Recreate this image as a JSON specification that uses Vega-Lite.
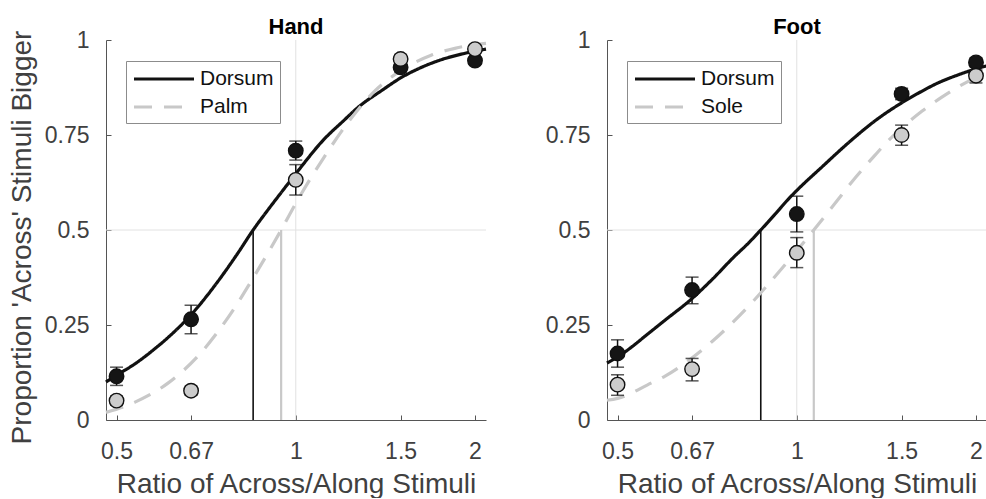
{
  "$schema": "https://vega.github.io/schema/vega-lite/v6.json",
  "background": "white",
  "padding": {"left": 8, "top": 16, "right": 0, "bottom": 0},
  "config": {
    "font": "Liberation Sans",
    "view": {"stroke": null},
    "axis": {
      "domainColor": "#555555", "tickColor": "#555555", "labelColor": "#404040", "titleColor": "#404040",
      "labelFont": "Liberation Sans", "titleFont": "Liberation Sans", "labelFontSize": 23, "titleFontSize": 28,
      "titleFontWeight": "normal", "grid": false, "tickSize": -5, "labelFlush": false, "labelOverlap": false,
      "domainWidth": 1, "tickWidth": 1
    },
    "axisX": {"labelPadding": 25, "titlePadding": 7},
    "axisY": {"labelPadding": 22, "titlePadding": 8},
    "title": {"fontSize": 22, "fontWeight": "bold", "color": "#000000", "font": "Liberation Sans", "offset": -10},
    "legend": {
      "orient": "none", "legendX": 20, "legendY": 21, "strokeColor": "#8c8c8c", "fillColor": "white",
      "padding": 6, "symbolType": "M-1,0L5,0", "symbolSize": 400, "symbolStrokeWidth": 3.2,
      "labelFontSize": 21, "labelFont": "Liberation Sans", "labelColor": "#111111", "labelOffset": 44, "rowPadding": 6
    }
  },
  "datasets": {
    "hand_curve": [
      {"x": 0.48, "y": 0.100, "series": "Dorsum"}, {"x": 0.5, "y": 0.118, "series": "Dorsum"}, {"x": 0.536, "y": 0.147, "series": "Dorsum"},
      {"x": 0.575, "y": 0.183, "series": "Dorsum"}, {"x": 0.611, "y": 0.218, "series": "Dorsum"}, {"x": 0.668, "y": 0.278, "series": "Dorsum"},
      {"x": 0.741, "y": 0.366, "series": "Dorsum"}, {"x": 0.8, "y": 0.440, "series": "Dorsum"}, {"x": 0.848, "y": 0.500, "series": "Dorsum"},
      {"x": 0.9, "y": 0.555, "series": "Dorsum"}, {"x": 0.95, "y": 0.603, "series": "Dorsum"}, {"x": 1.0, "y": 0.648, "series": "Dorsum"},
      {"x": 1.116, "y": 0.739, "series": "Dorsum"}, {"x": 1.2, "y": 0.786, "series": "Dorsum"}, {"x": 1.273, "y": 0.823, "series": "Dorsum"},
      {"x": 1.4, "y": 0.869, "series": "Dorsum"}, {"x": 1.503, "y": 0.901, "series": "Dorsum"}, {"x": 1.6, "y": 0.923, "series": "Dorsum"},
      {"x": 1.754, "y": 0.948, "series": "Dorsum"}, {"x": 1.9, "y": 0.963, "series": "Dorsum"}, {"x": 2.02, "y": 0.972, "series": "Dorsum"},
      {"x": 2.087, "y": 0.976, "series": "Dorsum"},
      {"x": 0.48, "y": 0.020, "series": "Palm"}, {"x": 0.537, "y": 0.047, "series": "Palm"}, {"x": 0.61, "y": 0.097, "series": "Palm"},
      {"x": 0.694, "y": 0.178, "series": "Palm"}, {"x": 0.75, "y": 0.245, "series": "Palm"}, {"x": 0.79, "y": 0.296, "series": "Palm"},
      {"x": 0.842, "y": 0.366, "series": "Palm"}, {"x": 0.9, "y": 0.442, "series": "Palm"}, {"x": 0.945, "y": 0.500, "series": "Palm"},
      {"x": 1.0, "y": 0.570, "series": "Palm"}, {"x": 1.116, "y": 0.692, "series": "Palm"}, {"x": 1.239, "y": 0.794, "series": "Palm"},
      {"x": 1.354, "y": 0.864, "series": "Palm"}, {"x": 1.503, "y": 0.920, "series": "Palm"}, {"x": 1.688, "y": 0.960, "series": "Palm"},
      {"x": 1.85, "y": 0.978, "series": "Palm"}, {"x": 2.024, "y": 0.989, "series": "Palm"}, {"x": 2.087, "y": 0.991, "series": "Palm"}
    ],
    "hand_pts": [
      {"x": 0.5, "y": 0.115, "lo": 0.091, "hi": 0.139, "series": "Dorsum"},
      {"x": 0.667, "y": 0.265, "lo": 0.227, "hi": 0.302, "series": "Dorsum"},
      {"x": 1.0, "y": 0.709, "lo": 0.684, "hi": 0.734, "series": "Dorsum"},
      {"x": 1.5, "y": 0.928, "lo": 0.916, "hi": 0.940, "series": "Dorsum"},
      {"x": 2.0, "y": 0.946, "lo": 0.936, "hi": 0.956, "series": "Dorsum"},
      {"x": 0.5, "y": 0.051, "lo": 0.039, "hi": 0.063, "series": "Palm"},
      {"x": 0.667, "y": 0.077, "lo": 0.065, "hi": 0.089, "series": "Palm"},
      {"x": 1.0, "y": 0.632, "lo": 0.592, "hi": 0.672, "series": "Palm"},
      {"x": 1.5, "y": 0.950, "lo": 0.938, "hi": 0.962, "series": "Palm"},
      {"x": 2.0, "y": 0.976, "lo": 0.966, "hi": 0.986, "series": "Palm"}
    ],
    "hand_thr": [
      {"x": 0.848, "series": "Dorsum"}, {"x": 0.945, "series": "Palm"}
    ],
    "foot_curve": [
      {"x": 0.48, "y": 0.150, "series": "Dorsum"}, {"x": 0.5, "y": 0.166, "series": "Dorsum"}, {"x": 0.569, "y": 0.233, "series": "Dorsum"},
      {"x": 0.6, "y": 0.262, "series": "Dorsum"}, {"x": 0.665, "y": 0.318, "series": "Dorsum"}, {"x": 0.72, "y": 0.369, "series": "Dorsum"},
      {"x": 0.783, "y": 0.428, "series": "Dorsum"}, {"x": 0.83, "y": 0.466, "series": "Dorsum"}, {"x": 0.87, "y": 0.500, "series": "Dorsum"},
      {"x": 0.92, "y": 0.542, "series": "Dorsum"}, {"x": 0.973, "y": 0.585, "series": "Dorsum"}, {"x": 1.0, "y": 0.604, "series": "Dorsum"},
      {"x": 1.106, "y": 0.668, "series": "Dorsum"}, {"x": 1.2, "y": 0.719, "series": "Dorsum"}, {"x": 1.258, "y": 0.747, "series": "Dorsum"},
      {"x": 1.35, "y": 0.786, "series": "Dorsum"}, {"x": 1.491, "y": 0.832, "series": "Dorsum"}, {"x": 1.6, "y": 0.860, "series": "Dorsum"},
      {"x": 1.732, "y": 0.888, "series": "Dorsum"}, {"x": 1.85, "y": 0.906, "series": "Dorsum"}, {"x": 2.0, "y": 0.924, "series": "Dorsum"},
      {"x": 2.087, "y": 0.932, "series": "Dorsum"},
      {"x": 0.48, "y": 0.052, "series": "Sole"}, {"x": 0.5, "y": 0.057, "series": "Sole"}, {"x": 0.569, "y": 0.097, "series": "Sole"},
      {"x": 0.6, "y": 0.115, "series": "Sole"}, {"x": 0.665, "y": 0.162, "series": "Sole"}, {"x": 0.72, "y": 0.206, "series": "Sole"},
      {"x": 0.783, "y": 0.259, "series": "Sole"}, {"x": 0.85, "y": 0.317, "series": "Sole"}, {"x": 0.9, "y": 0.361, "series": "Sole"},
      {"x": 0.961, "y": 0.413, "series": "Sole"}, {"x": 1.0, "y": 0.445, "series": "Sole"}, {"x": 1.068, "y": 0.500, "series": "Sole"},
      {"x": 1.15, "y": 0.563, "series": "Sole"}, {"x": 1.258, "y": 0.640, "series": "Sole"}, {"x": 1.35, "y": 0.695, "series": "Sole"},
      {"x": 1.429, "y": 0.737, "series": "Sole"}, {"x": 1.5, "y": 0.768, "series": "Sole"}, {"x": 1.624, "y": 0.813, "series": "Sole"},
      {"x": 1.75, "y": 0.849, "series": "Sole"}, {"x": 1.846, "y": 0.872, "series": "Sole"}, {"x": 2.0, "y": 0.901, "series": "Sole"},
      {"x": 2.087, "y": 0.912, "series": "Sole"}
    ],
    "foot_pts": [
      {"x": 0.5, "y": 0.175, "lo": 0.139, "hi": 0.211, "series": "Dorsum"},
      {"x": 0.667, "y": 0.342, "lo": 0.306, "hi": 0.376, "series": "Dorsum"},
      {"x": 1.0, "y": 0.542, "lo": 0.495, "hi": 0.589, "series": "Dorsum"},
      {"x": 1.5, "y": 0.858, "lo": 0.843, "hi": 0.873, "series": "Dorsum"},
      {"x": 2.0, "y": 0.941, "lo": 0.929, "hi": 0.953, "series": "Dorsum"},
      {"x": 0.5, "y": 0.093, "lo": 0.065, "hi": 0.119, "series": "Sole"},
      {"x": 0.667, "y": 0.134, "lo": 0.103, "hi": 0.162, "series": "Sole"},
      {"x": 1.0, "y": 0.440, "lo": 0.401, "hi": 0.480, "series": "Sole"},
      {"x": 1.5, "y": 0.750, "lo": 0.723, "hi": 0.776, "series": "Sole"},
      {"x": 2.0, "y": 0.906, "lo": 0.887, "hi": 0.921, "series": "Sole"}
    ],
    "foot_thr": [
      {"x": 0.870, "series": "Dorsum"}, {"x": 1.068, "series": "Sole"}
    ],
    "gridx": [{"x": 1}],
    "gridy": [{"y": 0.5}]
  },
  "spacing": 52,
  "hconcat": [
    {
      "title": "Hand",
      "width": 380, "height": 380,
      "layer": [
        {"data": {"name": "gridx"}, "mark": {"type": "rule", "color": "#e2e2e2", "strokeWidth": 1},
         "encoding": {"x": {"field": "x", "type": "quantitative", "title": "Ratio of Across/Along Stimuli",
           "scale": {"type": "log", "domain": [0.48, 2.087], "nice": false, "zero": false},
           "axis": {"values": [0.5, 0.667, 1, 1.5, 2], "labelExpr": "datum.value == 0.667 ? '0.67' : datum.value + ''"}}}},
        {"data": {"name": "gridy"}, "mark": {"type": "rule", "color": "#e2e2e2", "strokeWidth": 1},
         "encoding": {"y": {"field": "y", "type": "quantitative", "title": "Proportion 'Across' Stimuli Bigger",
           "scale": {"domain": [0, 1], "nice": false, "zero": true},
           "axis": {"values": [0, 0.25, 0.5, 0.75, 1], "labelExpr": "datum.value + ''", "titleY": 197}}}},
        {"data": {"name": "hand_thr"}, "mark": {"type": "rule"},
         "encoding": {"x": {"field": "x", "type": "quantitative", "title": "Ratio of Across/Along Stimuli"},
           "y": {"datum": 0}, "y2": {"datum": 0.5},
           "color": {"condition": {"test": "datum.series === 'Dorsum'", "value": "#111111"}, "value": "#c8c8c8"},
           "strokeWidth": {"condition": {"test": "datum.series === 'Dorsum'", "value": 1.6}, "value": 2.2}}},
        {"data": {"name": "hand_curve"}, "mark": {"type": "line", "interpolate": "monotone", "strokeWidth": 3.2},
         "encoding": {"x": {"field": "x", "type": "quantitative", "title": "Ratio of Across/Along Stimuli"},
           "y": {"field": "y", "type": "quantitative", "title": "Proportion 'Across' Stimuli Bigger"},
           "color": {"field": "series", "type": "nominal", "scale": {"domain": ["Dorsum", "Palm"], "range": ["#111111", "#c8c8c8"]}, "legend": {"title": null}},
           "strokeDash": {"field": "series", "type": "nominal", "scale": {"domain": ["Dorsum", "Palm"], "range": [[1, 0], [18, 12]]}, "legend": {"title": null}}}},
        {"data": {"name": "hand_pts"}, "mark": {"type": "rule", "color": "#111111", "strokeWidth": 1.5},
         "encoding": {"x": {"field": "x", "type": "quantitative"}, "y": {"field": "lo", "type": "quantitative"}, "y2": {"field": "hi"}}},
        {"data": {"name": "hand_pts"}, "mark": {"type": "tick", "orient": "horizontal", "size": 13, "thickness": 1.5, "color": "#111111"},
         "encoding": {"x": {"field": "x", "type": "quantitative"}, "y": {"field": "lo", "type": "quantitative"}}},
        {"data": {"name": "hand_pts"}, "mark": {"type": "tick", "orient": "horizontal", "size": 13, "thickness": 1.5, "color": "#111111"},
         "encoding": {"x": {"field": "x", "type": "quantitative"}, "y": {"field": "hi", "type": "quantitative"}}},
        {"data": {"name": "hand_pts"}, "mark": {"type": "circle", "size": 210, "stroke": "#111111", "strokeWidth": 1.4, "opacity": 1},
         "encoding": {"x": {"field": "x", "type": "quantitative"}, "y": {"field": "y", "type": "quantitative"},
           "fill": {"condition": {"test": "datum.series === 'Dorsum'", "value": "#151515"}, "value": "#cccccc"}}}
      ]
    },
    {
      "title": "Foot",
      "width": 380, "height": 380,
      "layer": [
        {"data": {"name": "gridx"}, "mark": {"type": "rule", "color": "#e2e2e2", "strokeWidth": 1},
         "encoding": {"x": {"field": "x", "type": "quantitative", "title": "Ratio of Across/Along Stimuli",
           "scale": {"type": "log", "domain": [0.48, 2.087], "nice": false, "zero": false},
           "axis": {"values": [0.5, 0.667, 1, 1.5, 2], "labelExpr": "datum.value == 0.667 ? '0.67' : datum.value + ''"}}}},
        {"data": {"name": "gridy"}, "mark": {"type": "rule", "color": "#e2e2e2", "strokeWidth": 1},
         "encoding": {"y": {"field": "y", "type": "quantitative", "title": null,
           "scale": {"domain": [0, 1], "nice": false, "zero": true},
           "axis": {"values": [0, 0.25, 0.5, 0.75, 1], "labelExpr": "datum.value + ''", "title": null}}}},
        {"data": {"name": "foot_thr"}, "mark": {"type": "rule"},
         "encoding": {"x": {"field": "x", "type": "quantitative", "title": "Ratio of Across/Along Stimuli"},
           "y": {"datum": 0, "title": null}, "y2": {"datum": 0.5},
           "color": {"condition": {"test": "datum.series === 'Dorsum'", "value": "#111111"}, "value": "#c8c8c8"},
           "strokeWidth": {"condition": {"test": "datum.series === 'Dorsum'", "value": 1.6}, "value": 2.2}}},
        {"data": {"name": "foot_curve"}, "mark": {"type": "line", "interpolate": "monotone", "strokeWidth": 3.2},
         "encoding": {"x": {"field": "x", "type": "quantitative", "title": "Ratio of Across/Along Stimuli"},
           "y": {"field": "y", "type": "quantitative", "title": null},
           "color": {"field": "series", "type": "nominal", "scale": {"domain": ["Dorsum", "Sole"], "range": ["#111111", "#c8c8c8"]}, "legend": {"title": null}},
           "strokeDash": {"field": "series", "type": "nominal", "scale": {"domain": ["Dorsum", "Sole"], "range": [[1, 0], [18, 12]]}, "legend": {"title": null}}}},
        {"data": {"name": "foot_pts"}, "mark": {"type": "rule", "color": "#111111", "strokeWidth": 1.5},
         "encoding": {"x": {"field": "x", "type": "quantitative"}, "y": {"field": "lo", "type": "quantitative", "title": null}, "y2": {"field": "hi"}}},
        {"data": {"name": "foot_pts"}, "mark": {"type": "tick", "orient": "horizontal", "size": 13, "thickness": 1.5, "color": "#111111"},
         "encoding": {"x": {"field": "x", "type": "quantitative"}, "y": {"field": "lo", "type": "quantitative", "title": null}}},
        {"data": {"name": "foot_pts"}, "mark": {"type": "tick", "orient": "horizontal", "size": 13, "thickness": 1.5, "color": "#111111"},
         "encoding": {"x": {"field": "x", "type": "quantitative"}, "y": {"field": "hi", "type": "quantitative", "title": null}}},
        {"data": {"name": "foot_pts"}, "mark": {"type": "circle", "size": 210, "stroke": "#111111", "strokeWidth": 1.4, "opacity": 1},
         "encoding": {"x": {"field": "x", "type": "quantitative"}, "y": {"field": "y", "type": "quantitative", "title": null},
           "fill": {"condition": {"test": "datum.series === 'Dorsum'", "value": "#151515"}, "value": "#cccccc"}}}
      ]
    }
  ],
  "resolve": {
    "scale": {"color": "independent", "strokeDash": "independent"},
    "legend": {"color": "independent", "strokeDash": "independent"}
  }
}
